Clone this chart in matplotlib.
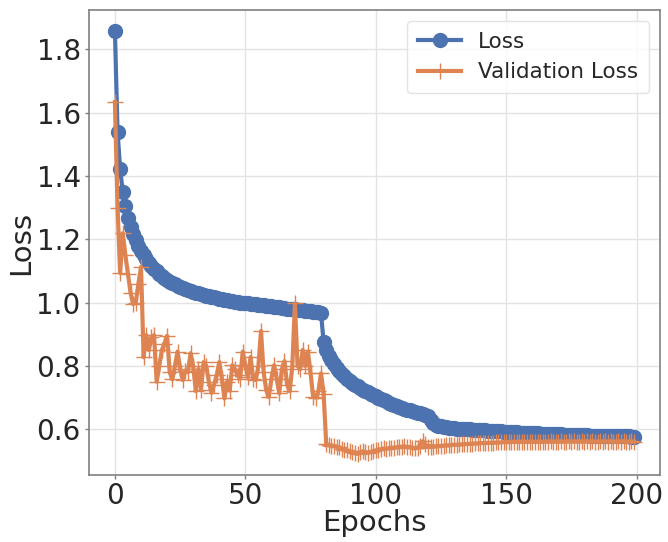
import matplotlib
matplotlib.use("Agg")
import matplotlib.pyplot as plt
import numpy as np

epochs = list(range(200))

loss = [
    1.857, 1.540, 1.421, 1.350, 1.305, 1.266, 1.238, 1.215, 1.196, 1.179,
    1.163, 1.149, 1.137, 1.126, 1.116, 1.107, 1.099, 1.091, 1.084, 1.077,
    1.071, 1.066, 1.061, 1.057, 1.053, 1.049, 1.046, 1.043, 1.040, 1.037,
    1.034, 1.031, 1.029, 1.026, 1.024, 1.022, 1.020, 1.018, 1.016, 1.014,
    1.012, 1.010, 1.009, 1.007, 1.005, 1.004, 1.003, 1.001, 1.000, 0.999,
    0.998, 0.997, 0.996, 0.995, 0.994, 0.993, 0.992, 0.991, 0.990, 0.989,
    0.988, 0.987, 0.986, 0.985, 0.984, 0.982, 0.981, 0.980, 0.979, 0.978,
    0.977, 0.976, 0.975, 0.974, 0.973, 0.972, 0.971, 0.970, 0.969, 0.967,
    0.875, 0.850, 0.832, 0.818, 0.805, 0.794, 0.784, 0.775, 0.767, 0.759,
    0.752, 0.746, 0.740, 0.735, 0.730, 0.725, 0.720, 0.716, 0.712, 0.708,
    0.704, 0.700, 0.696, 0.692, 0.688, 0.684, 0.680, 0.677, 0.674, 0.671,
    0.668, 0.665, 0.662, 0.660, 0.657, 0.655, 0.652, 0.650, 0.648, 0.646,
    0.643, 0.628, 0.618, 0.614, 0.611, 0.609, 0.607, 0.606, 0.605, 0.604,
    0.603, 0.602, 0.602, 0.601, 0.600, 0.600, 0.599, 0.598, 0.598, 0.597,
    0.597, 0.596, 0.596, 0.595, 0.595, 0.594, 0.594, 0.593, 0.593, 0.592,
    0.592, 0.591, 0.591, 0.590, 0.590, 0.589, 0.589, 0.589, 0.588, 0.588,
    0.587, 0.587, 0.587, 0.586, 0.586, 0.586, 0.585, 0.585, 0.585, 0.584,
    0.584, 0.584, 0.583, 0.583, 0.583, 0.582, 0.582, 0.582, 0.581, 0.581,
    0.581, 0.581, 0.580, 0.580, 0.580, 0.580, 0.579, 0.579, 0.579, 0.579,
    0.578, 0.578, 0.578, 0.578, 0.577, 0.577, 0.577, 0.577, 0.576, 0.576,
]

val_loss = [
    1.633, 1.300, 1.093, 1.219, 1.150, 1.090, 1.030, 0.995, 1.000, 1.060,
    1.112, 0.827, 0.897, 0.850, 0.890, 0.897, 0.750, 0.800, 0.850, 0.870,
    0.895, 0.780, 0.757, 0.800, 0.845, 0.790, 0.755, 0.785, 0.780, 0.840,
    0.800, 0.720, 0.790, 0.725, 0.812, 0.800, 0.750, 0.715, 0.740, 0.770,
    0.812, 0.760, 0.697, 0.750, 0.722, 0.802, 0.790, 0.770, 0.760, 0.845,
    0.800, 0.765, 0.828, 0.760, 0.755, 0.800, 0.910, 0.780, 0.723, 0.702,
    0.760, 0.802, 0.760, 0.713, 0.790, 0.815, 0.740, 0.720, 0.800, 0.997,
    0.800, 0.790, 0.850, 0.800, 0.845, 0.776, 0.702, 0.700, 0.720, 0.776,
    0.712, 0.553, 0.550, 0.548, 0.547, 0.545, 0.543, 0.538, 0.535, 0.533,
    0.530, 0.527, 0.524, 0.522, 0.527, 0.530, 0.528, 0.525, 0.527, 0.530,
    0.533, 0.535, 0.537, 0.539, 0.538, 0.540, 0.542, 0.541, 0.543, 0.545,
    0.544, 0.546, 0.543, 0.544, 0.540, 0.539, 0.541, 0.548, 0.562, 0.552,
    0.543, 0.544, 0.545, 0.546, 0.547, 0.547, 0.548, 0.549, 0.549, 0.550,
    0.551, 0.551, 0.552, 0.552, 0.553, 0.553, 0.554, 0.554, 0.555, 0.555,
    0.556, 0.556, 0.556, 0.557, 0.557, 0.557, 0.558, 0.558, 0.558, 0.559,
    0.559, 0.559, 0.560, 0.560, 0.560, 0.560, 0.561, 0.561, 0.560, 0.561,
    0.561, 0.560, 0.561, 0.561, 0.560, 0.561, 0.561, 0.562, 0.561, 0.561,
    0.561, 0.562, 0.561, 0.561, 0.562, 0.561, 0.562, 0.561, 0.561, 0.562,
    0.561, 0.562, 0.561, 0.562, 0.561, 0.561, 0.562, 0.561, 0.562, 0.561,
    0.562, 0.561, 0.561, 0.562, 0.561, 0.562, 0.561, 0.561, 0.562, 0.561,
]

series_names = ["Loss", "Validation Loss"]
xlabel = "Epochs"
ylabel = "Loss"

blue = "#4C72B0"
orange = "#DD8452"

fig = plt.figure(figsize=(6.68, 5.42), dpi=100)
ax = fig.add_axes([0.1332, 0.1236, 0.8548, 0.8579])

ax.plot(epochs, loss, color=blue, linewidth=3, marker="o", markersize=10,
        label=series_names[0], zorder=3)
ax.plot(epochs, val_loss, color=orange, linewidth=3, marker="+", markersize=11,
        markeredgewidth=1.0, label=series_names[1], zorder=3)

ax.set_xlabel(xlabel, fontsize=21, color="#262626", labelpad=-1)
ax.set_ylabel(ylabel, fontsize=21, color="#262626", labelpad=1)
ax.set_xticks([0, 50, 100, 150, 200])
ax.set_yticks([0.6, 0.8, 1.0, 1.2, 1.4, 1.6, 1.8])
ax.set_yticklabels(["0.6", "0.8", "1.0", "1.2", "1.4", "1.6", "1.8"])
ax.tick_params(axis="both", labelsize=20, colors="#262626", length=3,
               width=1, color="#808080")
ax.tick_params(axis="x", pad=2)
ax.tick_params(axis="y", pad=3)
ax.grid(True, color="#e3e3e3", linewidth=1)
ax.set_axisbelow(True)
for s in ax.spines.values():
    s.set_color("#808080")
    s.set_linewidth(1.2)

leg = ax.legend(loc="upper right", fontsize=15.5, frameon=True,
                fancybox=True, framealpha=0.8, borderpad=0.5)
leg.get_frame().set_edgecolor("#dddddd")
for t in leg.get_texts():
    t.set_color("#262626")

fig.savefig("out.png", dpi=100)
